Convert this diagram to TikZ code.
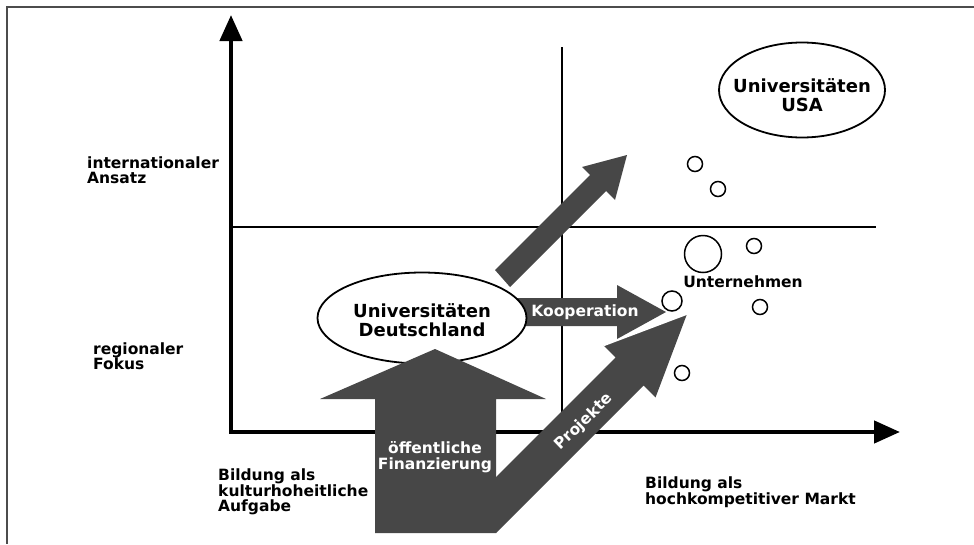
\documentclass[tikz,border=0pt]{standalone}
\usepackage{fontspec}
\setmainfont{DejaVu Sans}
\usetikzlibrary{arrows.meta,shapes.geometric}
\tikzset{
  block/.style={fill=black!72},
  blocktext/.style={text=white, font=\fontsize{15.5}{15.5}\selectfont\bfseries, align=center, inner sep=0},
  uni/.style={ellipse, draw, line width=1.8pt, fill=white, inner sep=0},
  unitext/.style={font=\fontsize{18}{19}\selectfont\bfseries, align=center, inner sep=0},
  firm/.style={circle, draw, line width=1.5pt, fill=white, inner sep=0, minimum size=#1},
  firm/.default=15pt,
  lbl/.style={anchor=west, align=left, inner sep=0}
}
\begin{document}
\begin{tikzpicture}[x=1pt, y=-1pt, line join=miter, font=\fontsize{15.5}{15.5}\selectfont\bfseries, >={Triangle[length=26pt,width=22pt]}]
	\useasboundingbox (0,0) rectangle (974,544);
	\def \xo{231};
	\def \yo{432};
	% frame
	\draw[line width=1.4pt, black!70] (974,7) -- (7,7) -- (7,544);
	% quadrants
	\draw[line width=2pt] (\xo,227) -- (876,227);
	\draw[line width=2pt] (562,47) -- (562,\yo);
	\draw[line width=4.5pt, <->] (\xo,15) -- (\xo,\yo) -- (900,\yo);
	% Kooperation
	\fill[block] (505,298) -- (617,298) -- (617,285) -- (666,312) -- (617,339) -- (617,326) -- (505,326) -- cycle;
	\node[uni, minimum width=209pt, minimum height=91pt] (deu) at (422,318) {};
	\node[unitext] (deutxt) at (422,320) {Universit\"aten\\Deutschland};
	% Finanzierung + Projekte
	\fill[block] (375,533) -- (375,399) -- (320,399) -- (435,349) -- (546,399) -- (496,399) -- (496,533) -- cycle;
	\fill[block] (496,533) -- (643.5,385.5) -- (655.5,397.5) -- (687,314) -- (603.5,345.5) -- (615.5,357.5) -- (496,477) -- cycle;
	\draw[white, line width=1.6pt] (603.5,345.5) -- (687,314);
	\fill[block] (495,270) -- (590,175) -- (582,167) -- (627,155) -- (615,200) -- (606,191) -- (510,287) -- cycle;
	\node[blocktext] (koop) at (585,312) {Kooperation};
	\node[blocktext] (fin) at (435,457) {\"offentliche\\Finanzierung};
	\node[blocktext, rotate=44] (proj) at (584,422) {Projekte};
	% USA
	\node[uni, minimum width=166pt, minimum height=95pt] (usa) at (802,90) {};
	\node[unitext] (usatxt) at (802,95) {Universit\"aten\\USA};
	% Unternehmen
	\foreach \x/\y/\d/\n in {695/164/15/u1, 718/189/15/u2, 703/254/37/u3, 754/246/15/u4, 672/301/20/u5, 760/307/15/u6, 682/373/15/u7}{\node[firm=\d pt] (\n) at (\x,\y) {};}
	\node (firms) at (743,282) {Unternehmen};
	\foreach \x/\y/\t/\n in {87/170/{internationaler\\Ansatz}/intl, 93/356/{regionaler\\Fokus}/reg, 218/492/{Bildung als\\kulturhoheitliche\\Aufgabe}/kult, 645/492/{Bildung als\\hochkompetitiver Markt}/markt}{\node[lbl] (\n) at (\x,\y) {\t};}
\end{tikzpicture}
\end{document}
